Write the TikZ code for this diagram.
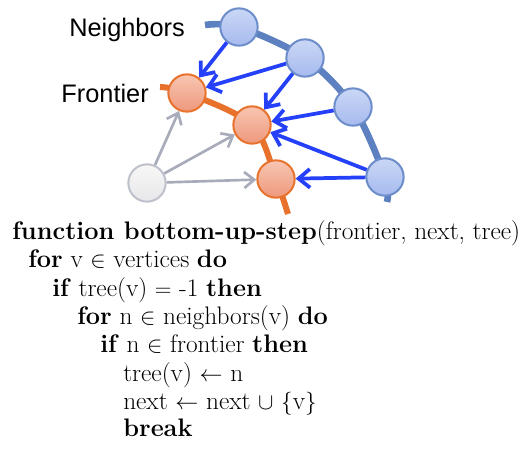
\documentclass[tikz,border=0pt]{standalone}
\usepackage{fontspec}
\usepackage{amsmath}
\usetikzlibrary{arrows.meta, backgrounds}
\newfontfamily\labelfont{Liberation Sans}
\definecolor{nbblue}{RGB}{92,128,192}
\definecolor{nbfill}{RGB}{202,215,246}
\definecolor{nbfilldark}{RGB}{166,186,238}
\definecolor{nbedge}{RGB}{108,140,202}
\definecolor{frorange}{RGB}{232,114,44}
\definecolor{frfill}{RGB}{248,198,178}
\definecolor{frfilldark}{RGB}{238,152,124}
\definecolor{arrblue}{RGB}{36,64,248}
\definecolor{unvisit}{RGB}{168,172,186}

\begin{document}
\begin{tikzpicture}[
  x=0.75pt, y=-0.75pt,
  vertex/.style={
    circle, line width=1.5pt,
    minimum size=28pt, inner sep=0pt,
  },
  nbvertex/.style={vertex, draw=nbedge, top color=nbfill, bottom color=nbfilldark},
  frvertex/.style={vertex, draw=frorange, top color=frfill, bottom color=frfilldark},
  grvertex/.style={vertex, draw=unvisit!75, top color=gray!6, bottom color=blue!5!gray!18},
  parent/.style={-{Straight Barb[length=8.5pt, width=14pt]}, line width=2.8pt, arrblue},
  child/.style={-{Straight Barb[length=7.5pt, width=12pt]}, line width=2pt, unvisit},
  setlabel/.style={font=\labelfont\fontsize{19}{19}\selectfont, inner sep=0pt},
  code/.style={anchor=base west, inner sep=0pt, font=\fontsize{19}{23}\selectfont},
]
\useasboundingbox (0,0) rectangle (519,452);

% ── Neighbors (blue)
\node[nbvertex] (nbA) at (239,27)  {};
\node[nbvertex] (nbB) at (305,58)  {};
\node[nbvertex] (nbC) at (353,107) {};
\node[nbvertex] (nbD) at (385,177) {};

% ── Frontier (orange)
\node[frvertex] (frA) at (187,93)  {};
\node[frvertex] (frB) at (252,125) {};
\node[frvertex] (frC) at (276,179) {};

% ── unvisited vertex
\node[grvertex] (unv) at (147,183) {};

% ── Labels
\node[setlabel, anchor=east] (nbLabel) at (185,30) {Neighbors};
\node[setlabel, anchor=east] (frLabel) at (149,93) {Frontier};

% ── Set outlines
\coordinate (nbStart) at (205,25);
\coordinate (nbEnd)   at (387,202);
\coordinate (frStart) at (160,87);
\coordinate (frEnd)   at (288,214);
\begin{pgfonlayer}{background}
  \draw[nbblue, line width=5pt] plot[smooth, tension=0.55]
    coordinates {(nbStart) (nbA) (nbB) (nbC) (nbD) (nbEnd)};
  \draw[frorange, line width=4.5pt] plot[smooth, tension=0.55]
    coordinates {(frStart) (frA) (frB) (frC) (frEnd)};
\end{pgfonlayer}

% ── Parent arrows
\draw[parent] (nbA) -- (frA);
\draw[parent] (nbB) -- (frA);
\draw[parent] (nbB) -- (frB);
\draw[parent] (nbC) -- (frB);
\draw[parent] (nbD) -- (frB);
\draw[parent] (nbD) -- (frC);

% ── Other edges
\draw[child] (unv) -- (frA);
\draw[child] (unv) -- (frB);
\draw[child] (unv) -- (frC);

% ── Algorithm
\node[code] (l1) at (12,240)  {\textbf{function bottom-up-step}(frontier, next, tree)};
\node[code] (l2) at (28,268)  {\textbf{for} v $\in$ vertices \textbf{do}};
\node[code] (l3) at (52,297)  {\textbf{if} tree(v) $=$ -1 \textbf{then}};
\node[code] (l4) at (77,325)  {\textbf{for} n $\in$ neighbors(v) \textbf{do}};
\node[code] (l5) at (100,353) {\textbf{if} n $\in$ frontier \textbf{then}};
\node[code] (l6) at (123,382) {tree(v) $\leftarrow$ n};
\node[code] (l7) at (123,410) {next $\leftarrow$ next $\cup$ $\{$v$\}$};
\node[code] (l8) at (123,437) {\textbf{break}};

\end{tikzpicture}
\end{document}
